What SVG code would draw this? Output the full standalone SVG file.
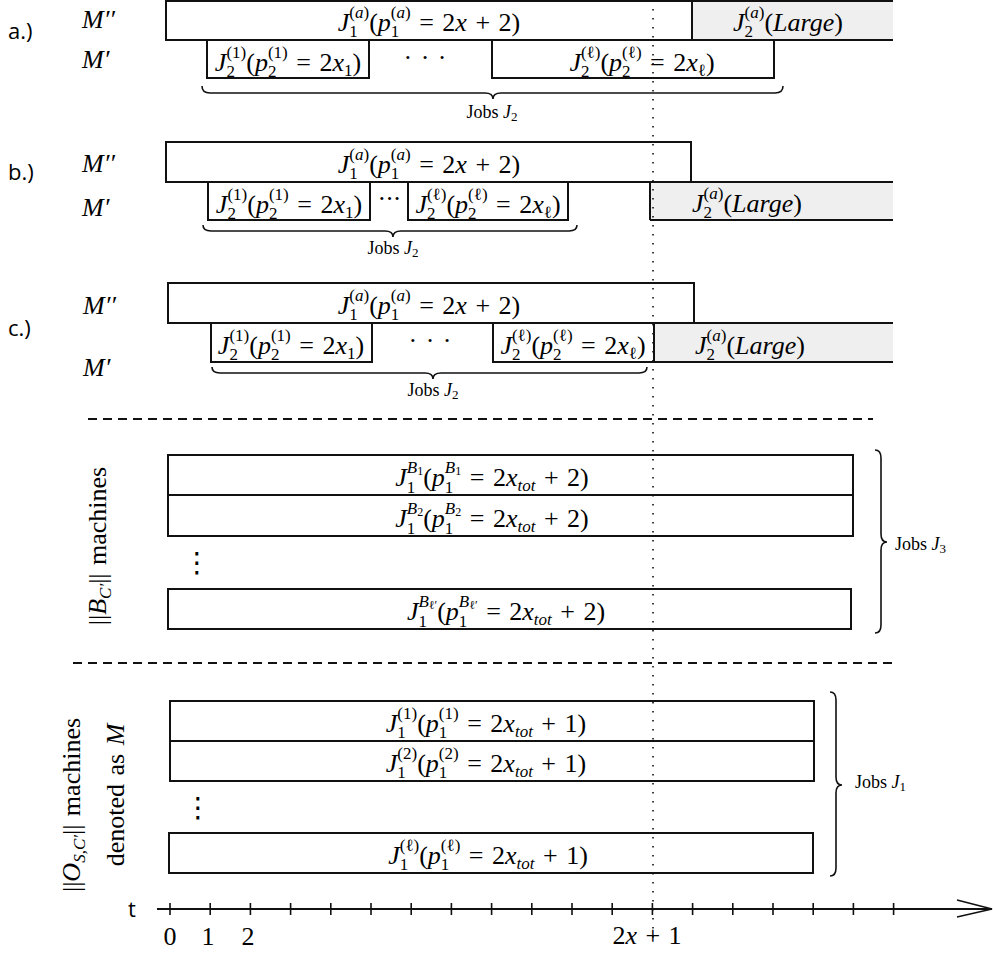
<svg xmlns="http://www.w3.org/2000/svg" width="993" height="953" viewBox="0 0 993 953">
<style>
.bg{fill:#fff}
.box{fill:#fff;stroke:#111;stroke-width:2}
.gray{fill:#efefef;stroke:none}
.edge{stroke:#111;stroke-width:2;fill:none}
.m{font-family:"Liberation Serif",serif;font-size:26px;fill:#000;word-spacing:2px}
.i{font-style:italic}
.s{font-size:17px}
.ss{font-size:12px}
.lab{font-family:"Open Sans","Liberation Sans",sans-serif;font-size:22px;fill:#000}
.jobs{font-family:"Liberation Serif",serif;font-size:18px;fill:#000}
.js{font-size:13px}
.vd{font-family:"DejaVu Sans",sans-serif;font-size:28px;fill:#000}
.brace{fill:none;stroke:#111;stroke-width:1.6}
.dash{stroke:#111;stroke-width:1.8;stroke-dasharray:9 6;fill:none}
.dot{stroke:#111;stroke-width:1.6;stroke-dasharray:1.6 7.4;fill:none}
.axis{stroke:#111;stroke-width:2;fill:none}
.tick{stroke:#111;stroke-width:1.6;fill:none}
</style>
<rect class="bg" x="0" y="0" width="993" height="953"/>

<g id="labels">
<text class="lab" x="8" y="39">a.)</text>
<text class="lab" x="8" y="180">b.)</text>
<text class="lab" x="8" y="336">c.)</text>
<text class="m i" x="82" y="28">M′′</text>
<text class="m i" x="82" y="68">M′</text>
<text class="m i" x="82" y="172">M′′</text>
<text class="m i" x="82" y="216">M′</text>
<text class="m i" x="83" y="314">M′′</text>
<text class="m i" x="83" y="376">M′</text>
</g>

<!-- section a -->
<g id="a-J1a">
<rect class="box" x="166" y="1" width="526" height="39"/>
<text class="m" x="429" y="31" text-anchor="middle"><tspan class="i">J</tspan><tspan class="s" dy="6">1</tspan><tspan class="s" dx="-8.5" dy="-19.5">(<tspan class="i">a</tspan>)</tspan><tspan dy="13.5">(</tspan><tspan class="i">p</tspan><tspan class="s" dy="6">1</tspan><tspan class="s" dx="-8.5" dy="-19.5">(<tspan class="i">a</tspan>)</tspan><tspan dy="13.5"> = 2</tspan><tspan class="i">x</tspan><tspan> + 2)</tspan></text>
</g>
<g id="a-J2large">
<rect class="gray" x="692" y="1" width="201" height="39"/>
<path class="edge" d="M692,1 H893 M692,40 H893 M692,1 V40"/>
<text class="m" x="788" y="31" text-anchor="middle"><tspan class="i">J</tspan><tspan class="s" dy="6">2</tspan><tspan class="s" dx="-8.5" dy="-19.5">(<tspan class="i">a</tspan>)</tspan><tspan dy="13.5">(</tspan><tspan class="i">Large</tspan><tspan>)</tspan></text>
</g>
<g id="a-J2-1">
<rect class="box" x="207" y="40" width="162" height="38"/>
<text class="m" x="288" y="71" text-anchor="middle"><tspan class="i">J</tspan><tspan class="s" dy="6">2</tspan><tspan class="s" dx="-8.5" dy="-19.5">(1)</tspan><tspan dy="13.5">(</tspan><tspan class="i">p</tspan><tspan class="s" dy="6">2</tspan><tspan class="s" dx="-8.5" dy="-19.5">(1)</tspan><tspan dy="13.5"> = 2</tspan><tspan class="i">x</tspan><tspan class="s" dy="5">1</tspan><tspan dy="-5">)</tspan></text>
</g>
<text class="m" x="425" y="66" text-anchor="middle">· · ·</text>
<g id="a-J2-l">
<rect class="box" x="492" y="40" width="282" height="38"/>
<text class="m" x="642" y="71" text-anchor="middle"><tspan class="i">J</tspan><tspan class="s" dy="6">2</tspan><tspan class="s" dx="-8.5" dy="-19.5">(ℓ)</tspan><tspan dy="13.5">(</tspan><tspan class="i">p</tspan><tspan class="s" dy="6">2</tspan><tspan class="s" dx="-8.5" dy="-19.5">(ℓ)</tspan><tspan dy="13.5"> = 2</tspan><tspan class="i">x</tspan><tspan class="s" dy="5">ℓ</tspan><tspan dy="-5">)</tspan></text>
</g>

<!-- section b -->
<g id="b-J1a">
<rect class="box" x="166" y="142" width="525" height="40"/>
<text class="m" x="429" y="173" text-anchor="middle"><tspan class="i">J</tspan><tspan class="s" dy="6">1</tspan><tspan class="s" dx="-8.5" dy="-19.5">(<tspan class="i">a</tspan>)</tspan><tspan dy="13.5">(</tspan><tspan class="i">p</tspan><tspan class="s" dy="6">1</tspan><tspan class="s" dx="-8.5" dy="-19.5">(<tspan class="i">a</tspan>)</tspan><tspan dy="13.5"> = 2</tspan><tspan class="i">x</tspan><tspan> + 2)</tspan></text>
</g>
<g id="b-J2-1">
<rect class="box" x="208" y="182" width="162" height="38"/>
<text class="m" x="289" y="213" text-anchor="middle"><tspan class="i">J</tspan><tspan class="s" dy="6">2</tspan><tspan class="s" dx="-8.5" dy="-19.5">(1)</tspan><tspan dy="13.5">(</tspan><tspan class="i">p</tspan><tspan class="s" dy="6">2</tspan><tspan class="s" dx="-8.5" dy="-19.5">(1)</tspan><tspan dy="13.5"> = 2</tspan><tspan class="i">x</tspan><tspan class="s" dy="5">1</tspan><tspan dy="-5">)</tspan></text>
</g>
<text class="m" x="389" y="207" text-anchor="middle" letter-spacing="-1">···</text>
<g id="b-J2-l">
<rect class="box" x="408" y="182" width="160" height="38"/>
<text class="m" x="488" y="213" text-anchor="middle"><tspan class="i">J</tspan><tspan class="s" dy="6">2</tspan><tspan class="s" dx="-8.5" dy="-19.5">(ℓ)</tspan><tspan dy="13.5">(</tspan><tspan class="i">p</tspan><tspan class="s" dy="6">2</tspan><tspan class="s" dx="-8.5" dy="-19.5">(ℓ)</tspan><tspan dy="13.5"> = 2</tspan><tspan class="i">x</tspan><tspan class="s" dy="5">ℓ</tspan><tspan dy="-5">)</tspan></text>
</g>
<g id="b-J2large">
<rect class="gray" x="650" y="182" width="243" height="38"/>
<path class="edge" d="M650,182 H893 M650,220 H893 M650,182 V220"/>
<text class="m" x="747" y="212" text-anchor="middle"><tspan class="i">J</tspan><tspan class="s" dy="6">2</tspan><tspan class="s" dx="-8.5" dy="-19.5">(<tspan class="i">a</tspan>)</tspan><tspan dy="13.5">(</tspan><tspan class="i">Large</tspan><tspan>)</tspan></text>
</g>

<!-- section c -->
<g id="c-J1a">
<rect class="box" x="168" y="283" width="526" height="40"/>
<text class="m" x="429" y="314" text-anchor="middle"><tspan class="i">J</tspan><tspan class="s" dy="6">1</tspan><tspan class="s" dx="-8.5" dy="-19.5">(<tspan class="i">a</tspan>)</tspan><tspan dy="13.5">(</tspan><tspan class="i">p</tspan><tspan class="s" dy="6">1</tspan><tspan class="s" dx="-8.5" dy="-19.5">(<tspan class="i">a</tspan>)</tspan><tspan dy="13.5"> = 2</tspan><tspan class="i">x</tspan><tspan> + 2)</tspan></text>
</g>
<g id="c-J2-1">
<rect class="box" x="211" y="323" width="161" height="39"/>
<text class="m" x="291" y="354" text-anchor="middle"><tspan class="i">J</tspan><tspan class="s" dy="6">2</tspan><tspan class="s" dx="-8.5" dy="-19.5">(1)</tspan><tspan dy="13.5">(</tspan><tspan class="i">p</tspan><tspan class="s" dy="6">2</tspan><tspan class="s" dx="-8.5" dy="-19.5">(1)</tspan><tspan dy="13.5"> = 2</tspan><tspan class="i">x</tspan><tspan class="s" dy="5">1</tspan><tspan dy="-5">)</tspan></text>
</g>
<text class="m" x="430" y="349" text-anchor="middle">· · ·</text>
<g id="c-J2-l">
<rect class="box" x="493" y="323" width="161" height="39"/>
<text class="m" x="573" y="354" text-anchor="middle"><tspan class="i">J</tspan><tspan class="s" dy="6">2</tspan><tspan class="s" dx="-8.5" dy="-19.5">(ℓ)</tspan><tspan dy="13.5">(</tspan><tspan class="i">p</tspan><tspan class="s" dy="6">2</tspan><tspan class="s" dx="-8.5" dy="-19.5">(ℓ)</tspan><tspan dy="13.5"> = 2</tspan><tspan class="i">x</tspan><tspan class="s" dy="5">ℓ</tspan><tspan dy="-5">)</tspan></text>
</g>
<g id="c-J2large">
<rect class="gray" x="654" y="323" width="239" height="39"/>
<path class="edge" d="M654,323 H893 M654,362 H893 M654,323 V362"/>
<text class="m" x="750" y="354" text-anchor="middle"><tspan class="i">J</tspan><tspan class="s" dy="6">2</tspan><tspan class="s" dx="-8.5" dy="-19.5">(<tspan class="i">a</tspan>)</tspan><tspan dy="13.5">(</tspan><tspan class="i">Large</tspan><tspan>)</tspan></text>
</g>

<!-- separators -->
<path class="dash" d="M88,419 H873"/>
<path class="dash" d="M73,663 H892"/>

<!-- B section -->
<text class="m" transform="translate(106,546) rotate(-90)" text-anchor="middle">||<tspan class="i">B</tspan><tspan class="s i" dy="5">C′</tspan><tspan dy="-5">|| machines</tspan></text>
<g id="B1">
<rect class="box" x="168" y="455" width="685" height="40"/>
<text class="m" x="492" y="486" text-anchor="middle"><tspan class="i">J</tspan><tspan class="s" dy="7">1</tspan><tspan class="s i" dx="-8.5" dy="-20">B</tspan><tspan class="ss" dy="2">1</tspan><tspan dy="11">(</tspan><tspan class="i">p</tspan><tspan class="s" dy="7">1</tspan><tspan class="s i" dx="-8.5" dy="-20">B</tspan><tspan class="ss" dy="2">1</tspan><tspan dy="11"> = 2</tspan><tspan class="i">x</tspan><tspan class="s i" dy="5">tot</tspan><tspan dy="-5"> + 2)</tspan></text>
</g>
<g id="B2">
<rect class="box" x="168" y="495" width="685" height="41"/>
<text class="m" x="492" y="527" text-anchor="middle"><tspan class="i">J</tspan><tspan class="s" dy="7">1</tspan><tspan class="s i" dx="-8.5" dy="-20">B</tspan><tspan class="ss" dy="2">2</tspan><tspan dy="11">(</tspan><tspan class="i">p</tspan><tspan class="s" dy="7">1</tspan><tspan class="s i" dx="-8.5" dy="-20">B</tspan><tspan class="ss" dy="2">2</tspan><tspan dy="11"> = 2</tspan><tspan class="i">x</tspan><tspan class="s i" dy="5">tot</tspan><tspan dy="-5"> + 2)</tspan></text>
</g>
<text class="vd" x="197" y="572" text-anchor="middle">⋮</text>
<g id="Bl">
<rect class="box" x="168" y="589" width="683" height="40"/>
<text class="m" x="506" y="620" text-anchor="middle"><tspan class="i">J</tspan><tspan class="s" dy="7">1</tspan><tspan class="s i" dx="-8.5" dy="-20">B</tspan><tspan class="ss" dy="2">ℓ′</tspan><tspan dy="11">(</tspan><tspan class="i">p</tspan><tspan class="s" dy="7">1</tspan><tspan class="s i" dx="-8.5" dy="-20">B</tspan><tspan class="ss" dy="2">ℓ′</tspan><tspan dy="11"> = 2</tspan><tspan class="i">x</tspan><tspan class="s i" dy="5">tot</tspan><tspan dy="-5"> + 2)</tspan></text>
</g>

<!-- O section -->
<text class="m" transform="translate(80,805) rotate(-90)" text-anchor="middle">||<tspan class="i">O</tspan><tspan class="s i" dy="5">S,C′</tspan><tspan dy="-5">|| machines</tspan></text>
<text class="m" transform="translate(124,795) rotate(-90)" text-anchor="middle">denoted as <tspan class="i">M</tspan></text>
<g id="O1">
<rect class="box" x="170" y="701" width="644" height="40"/>
<text class="m" x="486" y="732" text-anchor="middle"><tspan class="i">J</tspan><tspan class="s" dy="6">1</tspan><tspan class="s" dx="-8.5" dy="-19.5">(1)</tspan><tspan dy="13.5">(</tspan><tspan class="i">p</tspan><tspan class="s" dy="6">1</tspan><tspan class="s" dx="-8.5" dy="-19.5">(1)</tspan><tspan dy="13.5"> = 2</tspan><tspan class="i">x</tspan><tspan class="s i" dy="5">tot</tspan><tspan dy="-5"> + 1)</tspan></text>
</g>
<g id="O2">
<rect class="box" x="170" y="741" width="644" height="40"/>
<text class="m" x="486" y="772" text-anchor="middle"><tspan class="i">J</tspan><tspan class="s" dy="6">1</tspan><tspan class="s" dx="-8.5" dy="-19.5">(2)</tspan><tspan dy="13.5">(</tspan><tspan class="i">p</tspan><tspan class="s" dy="6">1</tspan><tspan class="s" dx="-8.5" dy="-19.5">(2)</tspan><tspan dy="13.5"> = 2</tspan><tspan class="i">x</tspan><tspan class="s i" dy="5">tot</tspan><tspan dy="-5"> + 1)</tspan></text>
</g>
<text class="vd" x="198" y="817" text-anchor="middle">⋮</text>
<g id="Ol">
<rect class="box" x="169" y="833" width="644" height="40"/>
<text class="m" x="488" y="864" text-anchor="middle"><tspan class="i">J</tspan><tspan class="s" dy="6">1</tspan><tspan class="s" dx="-8.5" dy="-19.5">(ℓ)</tspan><tspan dy="13.5">(</tspan><tspan class="i">p</tspan><tspan class="s" dy="6">1</tspan><tspan class="s" dx="-8.5" dy="-19.5">(ℓ)</tspan><tspan dy="13.5"> = 2</tspan><tspan class="i">x</tspan><tspan class="s i" dy="5">tot</tspan><tspan dy="-5"> + 1)</tspan></text>
</g>

<!-- connectors: braces, time marker, axis -->
<g id="connectors">
<path class="brace" d="M202,86 Q202,93 210,93 L485,93 Q493,93 493,99 Q493,93 501,93 L775,93 Q783,93 783,86"/>
<path class="brace" d="M203,225 Q203,231 211,231 L385,231 Q393,231 393,237 Q393,231 401,231 L569,231 Q577,231 577,225"/>
<path class="brace" d="M212,367 Q212,373 220,373 L425,373 Q433,373 433,379 Q433,373 441,373 L639,373 Q647,373 647,367"/>
<path class="brace" d="M875,450 Q881,450 881,458 L881,534 Q881,542 887,542 Q881,542 881,550 L881,625 Q881,633 875,633"/>
<path class="brace" d="M830,692 Q836,692 836,700 L836,777 Q836,785 842,785 Q836,785 836,793 L836,868 Q836,876 830,876"/>
<path class="dot" d="M653,0 V945"/>
<path class="axis" d="M157,909 H992"/>
<path class="tick" d="M957,900 L992,909 L957,917"/>
<path class="tick" d="M170,903V915M210.2,903V915M250.4,903V915M290.6,903V915M330.8,903V915M371,903V915M411.2,903V915M451.4,903V915M491.6,903V915M531.8,903V915M572,903V915M612.2,903V915M652.4,903V915M692.6,903V915M732.8,903V915M773,903V915M813.2,903V915M853.4,903V915M893.6,903V915"/>
</g>

<g id="brace-labels">
<text class="jobs" x="492" y="118" text-anchor="middle">Jobs <tspan class="i">J</tspan><tspan class="js" dy="3">2</tspan></text>
<text class="jobs" x="393" y="254" text-anchor="middle">Jobs <tspan class="i">J</tspan><tspan class="js" dy="3">2</tspan></text>
<text class="jobs" x="433" y="396" text-anchor="middle">Jobs <tspan class="i">J</tspan><tspan class="js" dy="3">2</tspan></text>
<text class="jobs" x="895" y="550">Jobs <tspan class="i">J</tspan><tspan class="js" dy="3">3</tspan></text>
<text class="jobs" x="855" y="788">Jobs <tspan class="i">J</tspan><tspan class="js" dy="3">1</tspan></text>
</g>

<g id="axis-labels">
<text class="lab" x="128" y="917" font-size="21">t</text>
<text class="m" x="170" y="945" text-anchor="middle" font-size="22">0</text>
<text class="m" x="208" y="945" text-anchor="middle" font-size="22">1</text>
<text class="m" x="248" y="945" text-anchor="middle" font-size="22">2</text>
<text class="m" x="647" y="944" text-anchor="middle" font-size="22">2<tspan class="i">x</tspan> + 1</text>
</g>
</svg>
